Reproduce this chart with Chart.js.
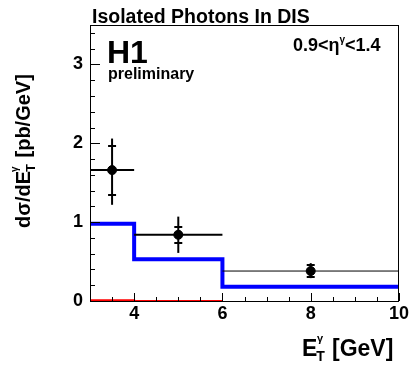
<!DOCTYPE html>
<html>
<head>
<meta charset="utf-8">
<script src="https://cdn.jsdelivr.net/npm/chart.js@4.4.1/dist/chart.umd.min.js"></script>
<style>
  body { margin: 0; background: #fff; }
  #wrap { width: 419px; height: 373px; }
</style>
</head>
<body>
<div id="wrap"><canvas id="c" width="419" height="373"></canvas></div>
<script>
// axis ranges and tick labels
const xRange = [3, 10];
const yRange = [0, 3.5];
const xTickVals = [4, 6, 8, 10];
const yTickVals = [0, 1, 2, 3];

// H1 data points (bin centres, values, bin edges, errors)
const dataX = [3.5, 5, 8];
const dataY = [1.66, 0.84, 0.38];
const binLo = [3, 4, 6];
const binHi = [4, 6, 10];
const statUp = [0.30, 0.10, 0.08];
const statDn = [0.32, 0.11, 0.08];
const totUp = [0.40, 0.23, 0.10];
const totDn = [0.44, 0.23, 0.09];

// prediction histograms
const mcEdges = [3, 4, 6, 10];
const blueVals = [0.98, 0.53, 0.18];
const redEdges = [3, 4, 6];
const redVals = [0.01, 0.0];

const FONT = '"Liberation Sans", Arial, Helvetica, sans-serif';

function histPoints(edges, vals) {
    const pts = [];
    for (let i = 0; i < vals.length; i++) pts.push({ x: edges[i], y: vals[i] });
    pts.push({ x: edges[edges.length - 1], y: vals[vals.length - 1] });
    return pts;
}

// error bars drawn from the data arrays through the chart scales
const errorBars = {
    id: 'errorBars',
    afterDatasetsDraw(chart) {
        const ctx = chart.ctx;
        const xs = chart.scales.x, ys = chart.scales.y;
        const hw = [2, 2, 1];
        ctx.save();
        ctx.strokeStyle = '#000';
        dataX.forEach((x, i) => {
            const px = xs.getPixelForValue(x);
            const py = ys.getPixelForValue(dataY[i]);
            // horizontal bin width
            ctx.lineWidth = hw[i];
            ctx.beginPath();
            ctx.moveTo(xs.getPixelForValue(binLo[i]), py);
            ctx.lineTo(xs.getPixelForValue(binHi[i]), py);
            ctx.stroke();
            // total error
            ctx.lineWidth = 2;
            ctx.beginPath();
            ctx.moveTo(px, ys.getPixelForValue(dataY[i] + totUp[i]));
            ctx.lineTo(px, ys.getPixelForValue(dataY[i] - totDn[i]));
            ctx.stroke();
            // stat caps
            [dataY[i] + statUp[i], dataY[i] - statDn[i]].forEach(v => {
                const cy = Math.round(ys.getPixelForValue(v));
                ctx.beginPath();
                ctx.moveTo(px - 4, cy);
                ctx.lineTo(px + 4, cy);
                ctx.stroke();
            });
        });
        ctx.restore();
    }
};

function drawRich(ctx, x, y, parts) {
    let cx = x;
    parts.forEach(p => {
        ctx.font = 'bold ' + p.size + 'px ' + FONT;
        ctx.fillText(p.t, cx, y + (p.dy || 0));
        cx += ctx.measureText(p.t).width + (p.gap || 0);
    });
}

// frame, inward ticks and the text labels
const frameAndText = {
    id: 'frameAndText',
    afterDraw(chart) {
        const ctx = chart.ctx;
        const a = chart.chartArea;
        const xs = chart.scales.x, ys = chart.scales.y;
        ctx.save();
        ctx.strokeStyle = '#000';
        ctx.lineWidth = 1;
        ctx.strokeRect(Math.round(a.left) + 0.5, Math.round(a.top) + 0.5,
            Math.round(a.right - a.left) - 1, Math.round(a.bottom - a.top));

        ctx.beginPath();
        for (let v = yRange[0]; v <= yRange[1] + 1e-6; v += 0.2) {
            const py = Math.round(ys.getPixelForValue(v)) + 0.5;
            const major = Math.abs(v - Math.round(v)) < 1e-6;
            ctx.moveTo(a.left, py);
            ctx.lineTo(a.left + (major ? 10 : 5), py);
        }
        for (let v = xRange[0]; v <= xRange[1] + 1e-6; v += 0.5) {
            const px = Math.round(xs.getPixelForValue(v)) + 0.5;
            const major = Math.abs(v % 2) < 1e-6;
            ctx.moveTo(px, a.bottom);
            ctx.lineTo(px, a.bottom - (major ? 8 : 4));
        }
        ctx.stroke();

        ctx.fillStyle = '#000';
        ctx.textBaseline = 'alphabetic';
        ctx.textAlign = 'left';
        drawRich(ctx, 92, 23, [{ t: 'Isolated Photons In DIS', size: 19.5 }]);
        drawRich(ctx, 107, 63, [{ t: 'H1', size: 32 }]);
        drawRich(ctx, 108, 79, [{ t: 'preliminary', size: 16 }]);
        drawRich(ctx, 293, 51, [
            { t: '0.9<\u03b7', size: 18 },
            { t: '\u03b3', size: 10, dy: -8 },
            { t: '<1.4', size: 18 }
        ]);
        drawRich(ctx, 302, 356, [
            { t: 'E', size: 23, gap: -1 },
            { t: 'T', size: 14, dy: 5, gap: -8 },
            { t: '\u03b3', size: 11, dy: -14, gap: 9 },
            { t: '[GeV]', size: 23 }
        ]);
        ctx.translate(30, 228);
        ctx.rotate(-Math.PI / 2);
        drawRich(ctx, 0, 0, [
            { t: 'd\u03c3/dE', size: 20, gap: -1 },
            { t: 'T', size: 13, dy: 5, gap: -8 },
            { t: '\u03b3', size: 10, dy: -12, gap: 9 },
            { t: '[pb/GeV]', size: 20 }
        ]);
        ctx.restore();
    }
};

new Chart(document.getElementById('c').getContext('2d'), {
    type: 'scatter',
    data: {
        datasets: [
            {
                type: 'line',
                data: histPoints(mcEdges, blueVals),
                borderColor: '#0000ff',
                borderWidth: 4,
                stepped: 'before',
                pointRadius: 0,
                fill: false
            },
            {
                type: 'line',
                data: histPoints(redEdges, redVals),
                borderColor: '#ff0000',
                borderWidth: 2,
                stepped: 'before',
                pointRadius: 0,
                fill: false
            },
            {
                data: dataX.map((x, i) => ({ x: x, y: dataY[i] })),
                backgroundColor: '#000',
                borderColor: '#000',
                pointRadius: 4.5
            }
        ]
    },
    options: {
        responsive: false,
        animation: false,
        layout: { padding: { top: 25, right: 20, left: 0, bottom: 0 } },
        plugins: { legend: { display: false }, tooltip: { enabled: false } },
        scales: {
            x: {
                type: 'linear',
                min: xRange[0], max: xRange[1],
                afterBuildTicks: s => { s.ticks = xTickVals.map(v => ({ value: v })); },
                afterFit: s => { s.height = 72; },
                grid: { display: false, drawTicks: false },
                border: { display: false },
                ticks: { color: '#000', padding: 2, maxRotation: 0, font: { family: FONT, size: 18, weight: 'bold' } }
            },
            y: {
                type: 'linear',
                min: yRange[0], max: yRange[1],
                afterBuildTicks: s => { s.ticks = yTickVals.map(v => ({ value: v })); },
                afterFit: s => { s.width = 90; },
                grid: { display: false, drawTicks: false },
                border: { display: false },
                ticks: { color: '#000', padding: 7, font: { family: FONT, size: 18, weight: 'bold' } }
            }
        }
    },
    plugins: [errorBars, frameAndText]
});
</script>
</body>
</html>
